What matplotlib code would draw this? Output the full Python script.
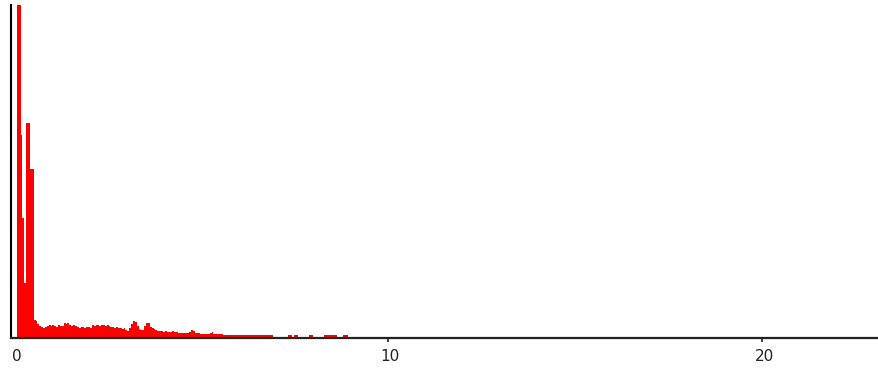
import numpy as np
import matplotlib
matplotlib.use("Agg")
import matplotlib.pyplot as plt
from matplotlib.transforms import ScaledTranslation

# Spectrum: bin width 0.05 keV, starting at 0 keV
bin_width = 0.05
counts = [
    0, 0, 333, 333, 203, 120, 55, 215, 215, 169,
    169, 18, 17, 14, 12, 11, 10, 11, 12, 13,
    12, 13, 12, 11, 13, 12, 12, 15, 14, 15,
    13, 12, 13, 12, 11, 10, 11, 11, 10, 11,
    11, 10, 13, 12, 13, 13, 12, 13, 13, 12,
    13, 12, 11, 11, 10, 11, 10, 10, 9, 10,
    8, 7, 10, 14, 17, 16, 12, 9, 8, 8,
    12, 15, 15, 11, 10, 9, 8, 7, 7, 7,
    6, 7, 6, 6, 6, 7, 6, 6, 5, 5,
    5, 5, 5, 5, 6, 8, 7, 5, 5, 5,
    4, 4, 4, 4, 4, 5, 6, 4, 4, 4,
    4, 4, 3, 3, 3, 3, 3, 3, 3, 3,
    3, 3, 3, 3, 3, 3, 3, 3, 3, 3,
    3, 3, 3, 3, 3, 3, 3, 3, 3, 0,
    0, 0, 0, 0, 0, 0, 0, 3, 3, 0,
    3, 3, 0, 0, 0, 0, 0, 0, 3, 3,
    0, 0, 0, 0, 0, 0, 3, 3, 3, 3,
    3, 3, 3, 0, 0, 0, 3, 3, 3, 0,
]
energies = np.arange(len(counts)) * bin_width

x_ticks = [0, 10, 20]
x_tick_labels = ["0", "10", "20"]

W, H = 879, 369
fig = plt.figure(figsize=(W / 100, H / 100), dpi=100)
left_px, right_px, top_px, bottom_px = 11.5, 879, 5, 337.5
ax = fig.add_axes([left_px / W, 1 - bottom_px / H,
                   (right_px - left_px) / W, (bottom_px - top_px) / H])

ax.bar(energies, counts, width=bin_width, align="edge",
       color="#ff0000", linewidth=0, antialiased=False)

ax.set_xlim(-0.043, 23.12)
ax.set_ylim(0, 333)

for s in ["top", "right"]:
    ax.spines[s].set_visible(False)
ax.spines["left"].set_color("#000000")
ax.spines["left"].set_linewidth(1.5)
ax.spines["bottom"].set_color("#222222")
ax.spines["bottom"].set_linewidth(1.6)

ax.set_yticks([])
ax.set_xticks(x_ticks)
ax.set_xticklabels(x_tick_labels, fontsize=11, color="#222222")
ax.tick_params(axis="x", direction="out", length=3, width=1.2,
               color="#222222", pad=5)
# hide the tick mark at 0 (it sits on the left axis) and nudge labels right
ax.xaxis.get_major_ticks()[0].tick1line.set_visible(False)
shift = ScaledTranslation(2.5 / 100, 0, fig.dpi_scale_trans)
for i, lbl in enumerate(ax.get_xticklabels()):
    extra = ScaledTranslation(1.5 / 100, 0, fig.dpi_scale_trans) if i == 0 else ScaledTranslation(0, 0, fig.dpi_scale_trans)
    lbl.set_transform(lbl.get_transform() + shift + extra)

fig.savefig("out.png", dpi=100, facecolor="white")
